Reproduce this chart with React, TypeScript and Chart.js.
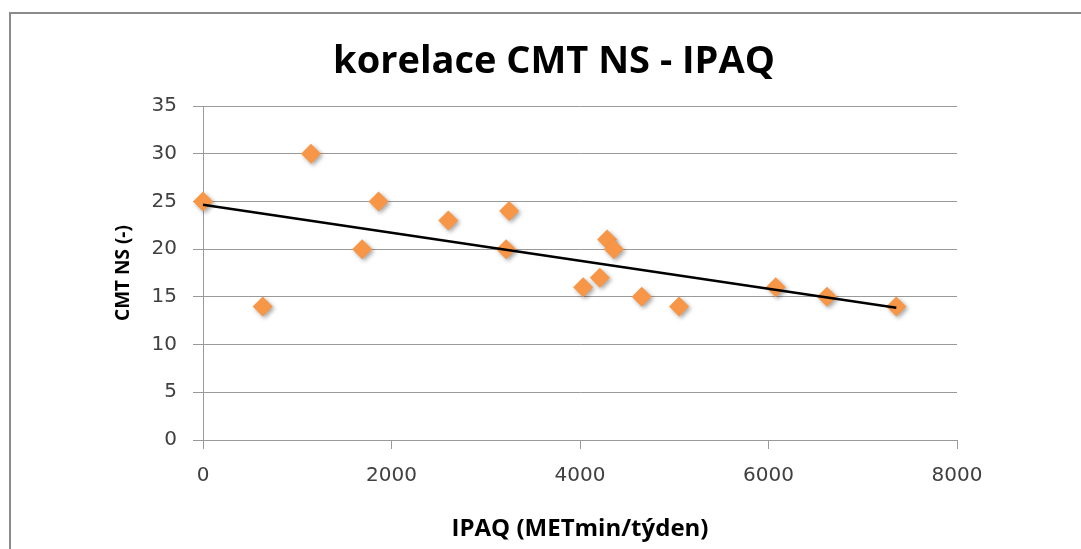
import React, { useEffect, useRef } from "react";
import { Chart, registerables } from "chart.js";

Chart.register(...registerables);

const chartTitle = "korelace CMT NS - IPAQ";
const ipaq = [0, 633, 1146, 1689, 1863, 2602, 3216, 3248, 4033, 4210, 4288, 4359, 4655, 5051, 6077, 6620, 7356];
const cmtNs = [25, 14, 30, 20, 25, 23, 20, 24, 16, 17, 21, 20, 15, 14, 16, 15, 14];
const trendX = [0, 7356];
const trendY = [24.65, 13.85];
const xTicks = [0, 2000, 4000, 6000, 8000];
const yTicks = [0, 5, 10, 15, 20, 25, 30, 35];

const shadowPlugin = {
  id: "markerShadow",
  beforeDatasetDraw(chart: any, args: any) {
    if (args.index !== 1) return;
    const ctx = chart.ctx;
    ctx.save();
    ctx.shadowColor = "rgba(0,0,0,0.35)";
    ctx.shadowBlur = 4;
    ctx.shadowOffsetX = 2;
    ctx.shadowOffsetY = 2;
  },
  afterDatasetDraw(chart: any, args: any) {
    if (args.index !== 1) return;
    chart.ctx.restore();
  },
};

export default function App() {
  const ref = useRef<HTMLCanvasElement>(null);
  useEffect(() => {
    if (!ref.current) return;
    const chart = new Chart(ref.current, {
      type: "scatter",
      data: {
        datasets: [
          {
            label: "trend",
            data: trendX.map((x, i) => ({ x, y: trendY[i] })),
            showLine: true,
            borderColor: "#000000",
            borderWidth: 2.5,
            pointRadius: 0,
            fill: false,
            clip: false,
          },
          {
            label: "CMT NS",
            data: ipaq.map((x, i) => ({ x, y: cmtNs[i] })),
            pointStyle: "rectRot",
            pointRadius: 10,
            pointHoverRadius: 10,
            backgroundColor: "#F79646",
            borderColor: "#F79646",
            borderWidth: 0,
            clip: false,
          },
        ],
      },
      plugins: [shadowPlugin],
      options: {
        responsive: false,
        animation: false,
        events: [],
        layout: { padding: { left: 112, right: 124, top: 106, bottom: 5 } },
        plugins: {
          legend: { display: false },
          tooltip: { enabled: false },
          title: { display: false },
        },
        scales: {
          x: {
            type: "linear",
            min: 0,
            max: 8000,
            afterBuildTicks: (s: any) => {
              s.ticks = xTicks.map((v) => ({ value: v }));
            },
            afterFit: (s: any) => {
              s.height = 104;
            },
            ticks: {
              color: "#404040",
              padding: 15,
              font: { family: "'DejaVu Sans', sans-serif", size: 20 },
              callback: (v: any) => String(v),
            },
            grid: {
              drawOnChartArea: false,
              color: "#9a9a9a",
              tickColor: "#9a9a9a",
              tickLength: 9,
            },
            border: { color: "#9a9a9a", width: 1 },
            title: {
              display: true,
              text: "IPAQ (METmin/týden)",
              color: "#000000",
              padding: 0,
              font: { family: "'Open Sans', sans-serif", size: 24, weight: "bold" },
            },
          },
          y: {
            type: "linear",
            min: 0,
            max: 35,
            afterBuildTicks: (s: any) => {
              s.ticks = yTicks.map((v) => ({ value: v }));
            },
            afterFit: (s: any) => {
              s.width = 91;
            },
            ticks: {
              color: "#404040",
              padding: 16,
              font: { family: "'DejaVu Sans', sans-serif", size: 20 },
              callback: (v: any) => String(v),
            },
            grid: {
              color: "#9a9a9a",
              tickColor: "#9a9a9a",
              tickLength: 10,
            },
            border: { color: "#9a9a9a", width: 1 },
            title: {
              display: true,
              text: "CMT NS (-)",
              color: "#000000",
              padding: 0,
              font: { family: "'Open Sans', sans-serif", size: 19, weight: "bold" },
            },
          },
        },
      },
    });
    return () => chart.destroy();
  }, []);

  return (
    <div
      style={{
        position: "fixed",
        left: 0,
        top: 0,
        width: 1081,
        height: 549,
        overflow: "hidden",
        background: "#ffffff",
      }}
    >
      <div
        style={{
          position: "absolute",
          left: 9,
          top: 12,
          width: 2000,
          height: 2000,
          borderTop: "2px solid #8b8b8b",
          borderLeft: "2px solid #8b8b8b",
        }}
      />
      <canvas
        ref={ref}
        width={1081}
        height={549}
        style={{ position: "absolute", left: 0, top: 0, width: 1081, height: 549 }}
      />
      <div
        style={{
          position: "absolute",
          left: 0,
          top: 35,
          width: 1108,
          textAlign: "center",
          fontFamily: "'Open Sans', sans-serif",
          fontWeight: "bold",
          fontSize: 38,
          lineHeight: "46px",
          color: "#000000",
          whiteSpace: "nowrap",
        }}
      >
        {chartTitle}
      </div>
    </div>
  );
}
